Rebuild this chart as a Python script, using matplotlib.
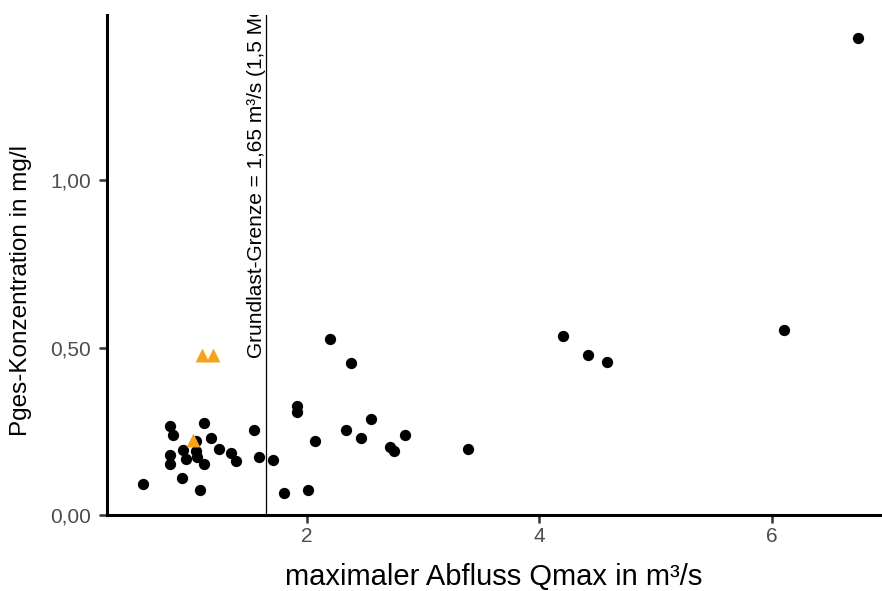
import matplotlib
matplotlib.use("Agg")
import matplotlib.pyplot as plt

plt.rcParams['font.family'] = ['Liberation Sans', 'DejaVu Sans']

# Black points (Qmax in m³/s, Pges in mg/l)
q_black = [0.826, 0.850, 1.121, 1.047, 1.176, 1.549, 0.936, 1.050, 0.826, 0.964,
           1.056, 1.250, 1.351, 1.394, 1.594, 1.709, 0.826, 1.121, 0.597, 0.932,
           1.084, 2.201, 2.380, 1.916, 1.916, 2.337, 2.555, 2.073, 2.466, 2.847,
           2.718, 2.752, 1.807, 2.015, 4.203, 4.418, 4.584, 3.383, 6.736, 6.100]
p_black = [0.267, 0.240, 0.274, 0.222, 0.229, 0.255, 0.194, 0.190, 0.180, 0.168,
           0.172, 0.197, 0.185, 0.162, 0.174, 0.165, 0.153, 0.153, 0.093, 0.112,
           0.076, 0.526, 0.455, 0.327, 0.307, 0.255, 0.287, 0.222, 0.229, 0.239,
           0.204, 0.192, 0.065, 0.075, 0.534, 0.477, 0.456, 0.198, 1.424, 0.554]

# Orange triangles
q_tri = [1.100, 1.199, 1.021]
p_tri = [0.477, 0.477, 0.224]

grenze = 1.65
grenze_label = "Grundlast-Grenze = 1,65 m³/s (1,5 MQ)"
xticks = [2, 4, 6]
xticklabels = ["2", "4", "6"]
yticks = [0.0, 0.5, 1.0]
yticklabels = ["0,00", "0,50", "1,00"]

fig = plt.figure(figsize=(8.82, 5.91), dpi=100)
ax = fig.add_axes([0.1217, 0.1286, 0.8763, 0.846])

ax.scatter(q_black, p_black, s=66, color="black", linewidths=0, zorder=3)
ax.scatter(q_tri, p_tri, s=100, marker="^", color="#F4A31A", linewidths=0, zorder=4)
ax.axvline(grenze, color="black", linewidth=0.9, zorder=2)
ax.text(1.572, 0.47, grenze_label, rotation=90, ha="center", va="bottom",
        fontsize=15, color="black", clip_on=True)

ax.set_xlim(0.287, 6.93)
ax.set_ylim(0, 1.494)
ax.set_xticks(xticks)
ax.set_xticklabels(xticklabels)
ax.set_yticks(yticks)
ax.set_yticklabels(yticklabels)

for s in ["top", "right"]:
    ax.spines[s].set_visible(False)
for s in ["left", "bottom"]:
    ax.spines[s].set_linewidth(2.2)
    ax.spines[s].set_color("black")

ax.tick_params(axis="both", length=6, width=1.8, color="#333333",
               labelcolor="#4D4D4D", labelsize=15)
ax.tick_params(axis="x", pad=3)
ax.tick_params(axis="y", pad=6)

ax.set_xlabel("maximaler Abfluss Qmax in m³/s", fontsize=21, color="black", labelpad=12)
ax.set_ylabel("Pges-Konzentration in mg/l", fontsize=17.5, color="black")
ax.yaxis.set_label_coords(-0.097, 0.45)

fig.savefig("out.png", dpi=100)
